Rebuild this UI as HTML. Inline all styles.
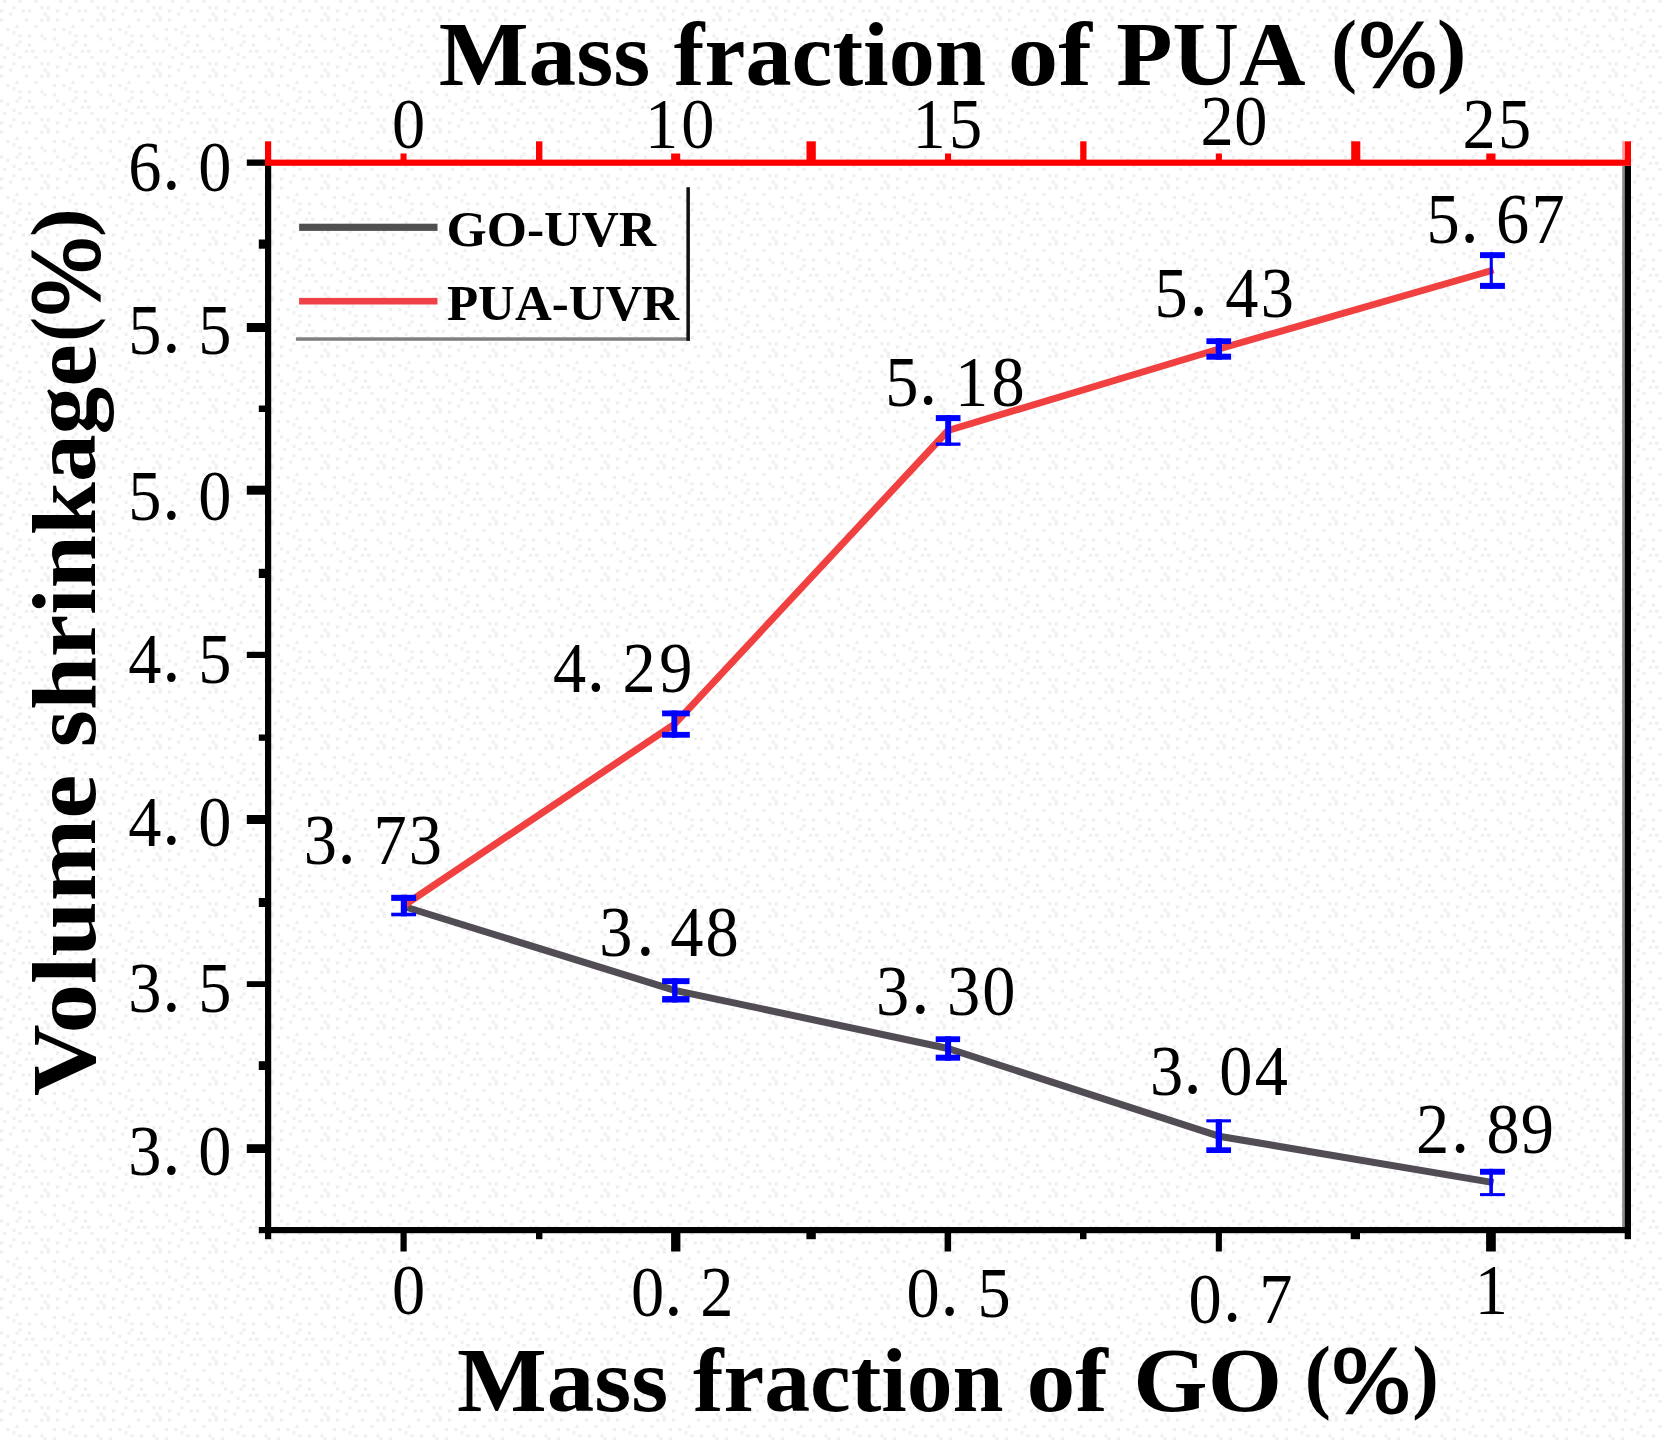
<!DOCTYPE html>
<html lang="en"><head><meta charset="utf-8"><title>Volume shrinkage chart</title>
<style>html,body{margin:0;padding:0;background:#fdfdfd;overflow:hidden;}svg{display:block;}.n{font-family:"Liberation Serif",serif;font-size:71px;fill:#000;text-anchor:middle;}.p{font-family:"Liberation Serif",serif;font-size:78px;fill:#000;text-anchor:middle;}.t{font-family:"Liberation Serif",serif;font-weight:bold;font-size:92px;fill:#000;}.l{font-family:"Liberation Serif",serif;font-weight:bold;font-size:51px;fill:#000;}</style></head><body>
<svg width="1662" height="1440" viewBox="0 0 1662 1440">
<defs><pattern id="bgdots" x="0" y="0" width="56" height="56" patternUnits="userSpaceOnUse">
<rect x="0" y="0" width="56" height="56" fill="#ffffff"/>
<rect x="3.11" y="0.00" width="3.1" height="3.1" fill="#efefef"/>
<rect x="12.44" y="6.22" width="3.1" height="3.1" fill="#efefef"/>
<rect x="18.67" y="0.00" width="3.1" height="3.1" fill="#efefef"/>
<rect x="34.22" y="0.00" width="3.1" height="3.1" fill="#efefef"/>
<rect x="40.44" y="6.22" width="3.1" height="3.1" fill="#efefef"/>
<rect x="46.66" y="6.22" width="3.1" height="3.1" fill="#efefef"/>
<rect x="0.00" y="9.33" width="3.1" height="3.1" fill="#efefef"/>
<rect x="9.33" y="12.44" width="3.1" height="3.1" fill="#efefef"/>
<rect x="21.78" y="9.33" width="3.1" height="3.1" fill="#efefef"/>
<rect x="28.00" y="9.33" width="3.1" height="3.1" fill="#efefef"/>
<rect x="43.55" y="12.44" width="3.1" height="3.1" fill="#efefef"/>
<rect x="46.66" y="15.55" width="3.1" height="3.1" fill="#efefef"/>
<rect x="0.00" y="18.67" width="3.1" height="3.1" fill="#efefef"/>
<rect x="15.55" y="24.89" width="3.1" height="3.1" fill="#efefef"/>
<rect x="24.89" y="18.67" width="3.1" height="3.1" fill="#efefef"/>
<rect x="34.22" y="24.89" width="3.1" height="3.1" fill="#efefef"/>
<rect x="40.44" y="18.67" width="3.1" height="3.1" fill="#efefef"/>
<rect x="46.66" y="18.67" width="3.1" height="3.1" fill="#efefef"/>
<rect x="6.22" y="28.00" width="3.1" height="3.1" fill="#efefef"/>
<rect x="12.44" y="31.11" width="3.1" height="3.1" fill="#efefef"/>
<rect x="18.67" y="34.22" width="3.1" height="3.1" fill="#efefef"/>
<rect x="28.00" y="34.22" width="3.1" height="3.1" fill="#efefef"/>
<rect x="40.44" y="34.22" width="3.1" height="3.1" fill="#efefef"/>
<rect x="52.88" y="28.00" width="3.1" height="3.1" fill="#efefef"/>
<rect x="0.00" y="43.55" width="3.1" height="3.1" fill="#efefef"/>
<rect x="15.55" y="43.55" width="3.1" height="3.1" fill="#efefef"/>
<rect x="18.67" y="40.44" width="3.1" height="3.1" fill="#efefef"/>
<rect x="28.00" y="43.55" width="3.1" height="3.1" fill="#efefef"/>
<rect x="43.55" y="37.33" width="3.1" height="3.1" fill="#efefef"/>
<rect x="52.88" y="37.33" width="3.1" height="3.1" fill="#efefef"/>
<rect x="6.22" y="46.66" width="3.1" height="3.1" fill="#efefef"/>
<rect x="12.44" y="52.88" width="3.1" height="3.1" fill="#efefef"/>
<rect x="24.89" y="49.77" width="3.1" height="3.1" fill="#efefef"/>
<rect x="31.11" y="49.77" width="3.1" height="3.1" fill="#efefef"/>
<rect x="43.55" y="49.77" width="3.1" height="3.1" fill="#efefef"/>
<rect x="49.77" y="49.77" width="3.1" height="3.1" fill="#efefef"/>
</pattern></defs>
<rect x="0" y="0" width="1662" height="1440" fill="url(#bgdots)"/>
<polyline points="403.8,906.5 674.8,990.3 948.1,1048.5 1218.9,1136.2 1493.5,1182.6" fill="none" stroke="#524d55" stroke-width="7" stroke-linejoin="round" stroke-linecap="butt"/>
<polyline points="403.8,905.5 674.5,724.1 948.1,430.5 1218.9,349.0 1493.5,270.0" fill="none" stroke="#f04040" stroke-width="7" stroke-linejoin="round" stroke-linecap="butt"/>
<rect x="391.2" y="894.8" width="24.9" height="6.1" fill="#0000ff"/>
<rect x="391.2" y="912.7" width="24.9" height="3.6" fill="#0000ff"/>
<rect x="400.8" y="894.8" width="6.1" height="21.5" fill="#0000ff"/>
<rect x="662.1" y="710.5" width="27.7" height="5.8" fill="#0000ff"/>
<rect x="662.1" y="731.9" width="27.7" height="5.8" fill="#0000ff"/>
<rect x="671.4" y="710.5" width="5.8" height="27.2" fill="#0000ff"/>
<rect x="935.8" y="415.1" width="24.7" height="6.0" fill="#0000ff"/>
<rect x="935.8" y="442.5" width="24.7" height="3.3" fill="#0000ff"/>
<rect x="945.2" y="415.1" width="5.9" height="30.7" fill="#0000ff"/>
<rect x="1206.4" y="338.3" width="24.7" height="5.8" fill="#0000ff"/>
<rect x="1206.4" y="353.7" width="24.7" height="6.0" fill="#0000ff"/>
<rect x="1215.7" y="338.3" width="6.3" height="21.4" fill="#0000ff"/>
<rect x="1480.0" y="252.2" width="24.9" height="5.9" fill="#0000ff"/>
<rect x="1480.0" y="282.9" width="24.9" height="6.0" fill="#0000ff"/>
<rect x="1489.7" y="252.2" width="3.1" height="36.7" fill="#0000ff"/>
<rect x="662.1" y="978.2" width="27.4" height="5.9" fill="#0000ff"/>
<rect x="662.1" y="996.1" width="27.4" height="6.4" fill="#0000ff"/>
<rect x="672.1" y="978.2" width="5.4" height="24.3" fill="#0000ff"/>
<rect x="935.7" y="1036.3" width="24.4" height="5.8" fill="#0000ff"/>
<rect x="935.7" y="1054.7" width="24.4" height="6.0" fill="#0000ff"/>
<rect x="945.1" y="1036.3" width="6.0" height="24.4" fill="#0000ff"/>
<rect x="1206.3" y="1119.3" width="24.7" height="3.1" fill="#0000ff"/>
<rect x="1206.3" y="1147.3" width="24.7" height="5.7" fill="#0000ff"/>
<rect x="1215.7" y="1119.3" width="6.3" height="33.7" fill="#0000ff"/>
<rect x="1480.0" y="1168.8" width="24.9" height="5.9" fill="#0000ff"/>
<rect x="1480.0" y="1193.1" width="24.9" height="3.0" fill="#0000ff"/>
<rect x="1489.3" y="1168.8" width="3.6" height="27.3" fill="#0000ff"/>
<rect x="265.0" y="159.6" width="6.2" height="1079.6" fill="#000000"/>
<rect x="1622.2" y="165.8" width="2.5" height="1067.2" fill="#8a8a8a"/>
<rect x="1624.7" y="165.8" width="6.3" height="1073.4" fill="#000000"/>
<rect x="258.8" y="1227.0" width="1372.2" height="6.2" fill="#000000"/>
<rect x="246.8" y="159.5" width="19.2" height="6.3" fill="#000000"/>
<rect x="258.8" y="239.5" width="7.2" height="9.2" fill="#000000"/>
<rect x="246.8" y="323.0" width="19.2" height="9.0" fill="#000000"/>
<rect x="258.8" y="405.5" width="7.2" height="6.5" fill="#000000"/>
<rect x="246.8" y="485.7" width="19.2" height="9.0" fill="#000000"/>
<rect x="258.8" y="568.8" width="7.2" height="9.2" fill="#000000"/>
<rect x="246.8" y="651.8" width="19.2" height="6.2" fill="#000000"/>
<rect x="258.8" y="734.5" width="7.2" height="6.3" fill="#000000"/>
<rect x="246.8" y="815.0" width="19.2" height="9.0" fill="#000000"/>
<rect x="258.8" y="898.0" width="7.2" height="9.0" fill="#000000"/>
<rect x="246.8" y="981.2" width="19.2" height="5.8" fill="#000000"/>
<rect x="258.8" y="1061.2" width="7.2" height="8.8" fill="#000000"/>
<rect x="246.8" y="1144.2" width="19.2" height="8.8" fill="#000000"/>
<rect x="400.5" y="1232.0" width="6.2" height="19.5" fill="#000000"/>
<rect x="536.0" y="1232.0" width="6.4" height="7.2" fill="#000000"/>
<rect x="671.1" y="1232.0" width="9.3" height="19.5" fill="#000000"/>
<rect x="806.4" y="1232.0" width="9.4" height="7.2" fill="#000000"/>
<rect x="944.6" y="1232.0" width="6.5" height="19.5" fill="#000000"/>
<rect x="1080.0" y="1232.0" width="6.5" height="7.2" fill="#000000"/>
<rect x="1215.8" y="1232.0" width="6.1" height="19.5" fill="#000000"/>
<rect x="1350.7" y="1232.0" width="9.3" height="7.2" fill="#000000"/>
<rect x="1486.1" y="1232.0" width="9.7" height="19.5" fill="#000000"/>
<rect x="265.0" y="159.6" width="1366.0" height="6.2" fill="#ff0000"/>
<rect x="265.0" y="141.3" width="6.2" height="19.7" fill="#ff0000"/>
<rect x="400.5" y="153.5" width="6.1" height="7.5" fill="#ff0000"/>
<rect x="536.0" y="141.3" width="6.4" height="19.7" fill="#ff0000"/>
<rect x="671.1" y="153.5" width="9.1" height="7.5" fill="#ff0000"/>
<rect x="806.5" y="141.3" width="9.3" height="19.7" fill="#ff0000"/>
<rect x="945.0" y="153.5" width="6.1" height="7.5" fill="#ff0000"/>
<rect x="1080.2" y="141.3" width="6.3" height="19.7" fill="#ff0000"/>
<rect x="1215.8" y="153.5" width="6.1" height="7.5" fill="#ff0000"/>
<rect x="1351.2" y="141.3" width="9.1" height="19.7" fill="#ff0000"/>
<rect x="1486.3" y="153.5" width="9.2" height="7.5" fill="#ff0000"/>
<rect x="1624.6" y="141.3" width="6.4" height="19.7" fill="#ff0000"/>
<rect x="1622.2" y="141.3" width="2.4" height="18.3" fill="#ff9aa0"/>
<text class="n" transform="scale(0.935 1)" x="154.9 183.2 229.7" y="190.9">6<tspan class="p" dy="-1.5">.</tspan><tspan dy="1.5">0</tspan></text>
<text class="n" transform="scale(0.935 1)" x="154.9 183.2 229.7" y="353.9">5<tspan class="p" dy="-1.5">.</tspan><tspan dy="1.5">5</tspan></text>
<text class="n" transform="scale(0.935 1)" x="154.9 183.2 229.7" y="520.1">5<tspan class="p" dy="-1.5">.</tspan><tspan dy="1.5">0</tspan></text>
<text class="n" transform="scale(0.935 1)" x="154.9 183.2 229.7" y="682.6">4<tspan class="p" dy="-1.5">.</tspan><tspan dy="1.5">5</tspan></text>
<text class="n" transform="scale(0.935 1)" x="154.9 183.2 229.7" y="845.9">4<tspan class="p" dy="-1.5">.</tspan><tspan dy="1.5">0</tspan></text>
<text class="n" transform="scale(0.935 1)" x="154.9 183.2 229.7" y="1012.2">3<tspan class="p" dy="-1.5">.</tspan><tspan dy="1.5">5</tspan></text>
<text class="n" transform="scale(0.935 1)" x="154.9 183.2 229.7" y="1175.4">3<tspan class="p" dy="-1.5">.</tspan><tspan dy="1.5">0</tspan></text>
<text class="n" transform="scale(0.935 1)" x="436.9" y="148.0">0</text>
<text class="n" transform="scale(0.935 1)" x="707.6 746.3" y="148.0">10</text>
<text class="n" transform="scale(0.935 1)" x="993.7 1032.6" y="148.2">15</text>
<text class="n" transform="scale(0.935 1)" x="1301.6 1337.8" y="145.2">20</text>
<text class="n" transform="scale(0.935 1)" x="1581.8 1619.9" y="147.9">25</text>
<text class="n" transform="scale(0.935 1)" x="436.9" y="1313.8">0</text>
<text class="n" transform="scale(0.935 1)" x="692.5 720.1 766.8" y="1316.4">0<tspan class="p" dy="-1.5">.</tspan><tspan dy="1.5">2</tspan></text>
<text class="n" transform="scale(0.935 1)" x="987.4 1015.6 1063.1" y="1316.8">0<tspan class="p" dy="-1.5">.</tspan><tspan dy="1.5">5</tspan></text>
<text class="n" transform="scale(0.935 1)" x="1288.8 1317.9 1364.5" y="1322.6">0<tspan class="p" dy="-1.5">.</tspan><tspan dy="1.5">7</tspan></text>
<text class="n" transform="scale(0.935 1)" x="1595.1" y="1313.6">1</text>
<text class="n" transform="scale(0.935 1)" x="342.6 370.7 417.1 454.8" y="864.2">3<tspan class="p" dy="-1.5">.</tspan><tspan dy="1.5">73</tspan></text>
<text class="n" transform="scale(0.935 1)" x="609.2 637.4 683.5 722.7" y="692.4">4<tspan class="p" dy="-1.5">.</tspan><tspan dy="1.5">29</tspan></text>
<text class="n" transform="scale(0.935 1)" x="964.6 992.7 1039.1 1078.1" y="405.8">5<tspan class="p" dy="-1.5">.</tspan><tspan dy="1.5">18</tspan></text>
<text class="n" transform="scale(0.935 1)" x="1252.4 1282.0 1328.3 1366.2" y="317.0">5<tspan class="p" dy="-1.5">.</tspan><tspan dy="1.5">43</tspan></text>
<text class="n" transform="scale(0.935 1)" x="1543.5 1571.7 1617.8 1655.6" y="243.2">5<tspan class="p" dy="-1.5">.</tspan><tspan dy="1.5">67</tspan></text>
<text class="n" transform="scale(0.935 1)" x="658.6 690.2 734.5 772.2" y="956.5">3<tspan class="p" dy="-1.5">.</tspan><tspan dy="1.5">48</tspan></text>
<text class="n" transform="scale(0.935 1)" x="954.7 984.4 1030.5 1068.3" y="1015.0">3<tspan class="p" dy="-1.5">.</tspan><tspan dy="1.5">30</tspan></text>
<text class="n" transform="scale(0.935 1)" x="1247.6 1275.4 1321.8 1359.8" y="1095.0">3<tspan class="p" dy="-1.5">.</tspan><tspan dy="1.5">04</tspan></text>
<text class="n" transform="scale(0.935 1)" x="1532.1 1561.7 1607.7 1644.1" y="1153.4">2<tspan class="p" dy="-1.5">.</tspan><tspan dy="1.5">89</tspan></text>
<rect x="299.1" y="223.7" width="138.4" height="7.2" fill="#505050"/>
<rect x="299.1" y="297.9" width="138.4" height="6.6" fill="#f04048"/>
<rect x="295.9" y="337.3" width="394.0" height="3.5" fill="#808080"/>
<rect x="686.4" y="187.2" width="3.5" height="153.6" fill="#101010"/>
<text class="l"><tspan x="446.54" y="246.3" textLength="209.50" lengthAdjust="spacingAndGlyphs">GO-UVR</tspan></text>
<text class="l"><tspan x="446.90" y="319.6" textLength="232.31" lengthAdjust="spacingAndGlyphs">PUA-UVR</tspan></text>
<text class="t"><tspan x="438.66" y="85.0" textLength="211.60" lengthAdjust="spacingAndGlyphs">Mass</tspan> <tspan x="673.79" y="85.0" textLength="312.31" lengthAdjust="spacingAndGlyphs">fraction</tspan> <tspan x="1007.73" y="85.0" textLength="84.14" lengthAdjust="spacingAndGlyphs">of</tspan> <tspan x="1116.30" y="85.0" textLength="184.24" lengthAdjust="spacingAndGlyphs">PUA</tspan> <tspan x="1331.13" y="77.2" textLength="25.70" lengthAdjust="spacingAndGlyphs" style="font-size:82px">(</tspan><tspan x="1359.00" y="86.0" textLength="77.97" lengthAdjust="spacingAndGlyphs" style="font-size:96px;font-weight:normal;stroke:#000;stroke-width:2px">%</tspan><tspan x="1436.78" y="77.2" textLength="29.85" lengthAdjust="spacingAndGlyphs" style="font-size:82px">)</tspan></text>
<text class="t"><tspan x="457.05" y="1410.9" textLength="211.32" lengthAdjust="spacingAndGlyphs">Mass</tspan> <tspan x="692.89" y="1410.9" textLength="310.72" lengthAdjust="spacingAndGlyphs">fraction</tspan> <tspan x="1026.57" y="1410.9" textLength="81.25" lengthAdjust="spacingAndGlyphs">of</tspan> <tspan x="1133.36" y="1410.9" textLength="148.74" lengthAdjust="spacingAndGlyphs">GO</tspan> <tspan x="1304.79" y="1403.3" textLength="26.10" lengthAdjust="spacingAndGlyphs" style="font-size:82px">(</tspan><tspan x="1331.89" y="1412.4" textLength="78.17" lengthAdjust="spacingAndGlyphs" style="font-size:96px;font-weight:normal;stroke:#000;stroke-width:2px">%</tspan><tspan x="1412.26" y="1403.3" textLength="26.62" lengthAdjust="spacingAndGlyphs" style="font-size:82px">)</tspan></text>
<g transform="translate(95,0) rotate(-90)">
<text class="t"><tspan x="-1096.01" y="0.0" textLength="321.25" lengthAdjust="spacingAndGlyphs">Volume</tspan> <tspan x="-747.25" y="0.0" textLength="402.89" lengthAdjust="spacingAndGlyphs">shrinkage</tspan><tspan x="-341.59" y="-6.8" textLength="24.28" lengthAdjust="spacingAndGlyphs" style="font-size:82.7px">(</tspan><tspan x="-316.11" y="2.7" textLength="79.09" lengthAdjust="spacingAndGlyphs" style="font-size:99px;font-weight:normal;stroke:#000;stroke-width:2px">%</tspan><tspan x="-237.10" y="-6.8" textLength="28.82" lengthAdjust="spacingAndGlyphs" style="font-size:82.7px">)</tspan></text>
</g>
</svg></body></html>
